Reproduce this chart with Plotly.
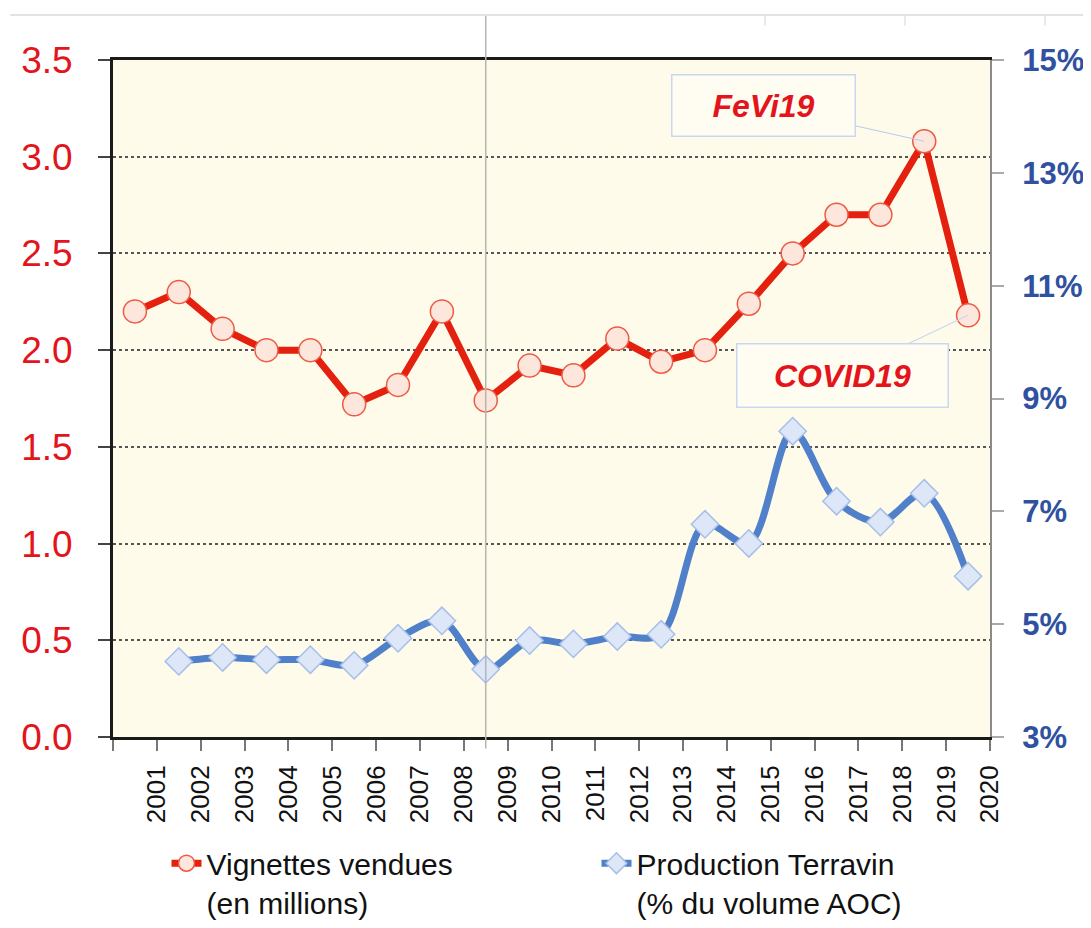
import plotly.graph_objects as go

years = [str(y) for y in range(2001, 2021)]
vignettes = [2.20, 2.30, 2.11, 2.00, 2.00, 1.72, 1.82, 2.20, 1.74, 1.92,
             1.87, 2.06, 1.94, 2.00, 2.24, 2.50, 2.70, 2.70, 3.08, 2.18]
terravin_years = years[1:]
terravin_pct = [4.34, 4.41, 4.37, 4.37, 4.27, 4.75, 5.06, 4.20, 4.71,
                4.65, 4.78, 4.82, 6.77, 6.43, 8.42, 7.18, 6.81, 7.32, 5.85]

left_ticks = [0.0, 0.5, 1.0, 1.5, 2.0, 2.5, 3.0, 3.5]
right_ticks = [3, 5, 7, 9, 11, 13, 15]

# category slots: each year occupies one slot, point in the slot centre
pos = {y: i + 0.5 for i, y in enumerate(years)}
x_red = [pos[y] for y in years]
x_blue = [pos[y] for y in terravin_years]

fig = go.Figure()

fig.add_trace(go.Scatter(
    x=x_red, y=vignettes, mode="lines+markers",
    name="Vignettes vendues<br>(en millions)",
    line=dict(color="#E4200E", width=7),
    marker=dict(symbol="circle", size=23, color="#FDE6DB",
                line=dict(color="#EE5A45", width=1.5)),
    yaxis="y",
))

fig.add_trace(go.Scatter(
    x=x_blue, y=terravin_pct, mode="lines+markers",
    name="Production Terravin<br>(% du volume AOC)",
    line=dict(color="#4F80C9", width=7, shape="spline", smoothing=0.9),
    marker=dict(symbol="diamond", size=21, color="#DDE7F8",
                line=dict(color="#A6BFEA", width=1.5)),
    yaxis="y2",
))

# vertical marker through 2009
fig.add_shape(type="line", xref="x", yref="paper",
              x0=pos["2009"], x1=pos["2009"], y0=-0.017, y1=1.067,
              line=dict(color="#B5B5B5", width=1.5), layer="above")
# faint page line at the top
fig.add_shape(type="line", xref="paper", yref="paper",
              x0=-0.117, x1=1.12, y0=1.0665, y1=1.0665,
              line=dict(color="#E2E2E2", width=2))
for xp in [0.7434, 0.903, 1.0627]:
    fig.add_shape(type="line", xref="paper", yref="paper",
                  x0=xp, x1=xp, y0=1.0665, y1=1.051,
                  line=dict(color="#E2E2E2", width=1.5))

ann_font = dict(family="Liberation Sans, Arial, sans-serif", size=32,
                color="#E3141B")
fig.add_annotation(
    x=pos["2019"], y=vignettes[years.index("2019")], xref="x", yref="y",
    text="<b><i>FeVi19</i></b>", font=ann_font,
    showarrow=True, arrowhead=0, arrowcolor="#B9CCEE", arrowwidth=1.2,
    ax=-161, ay=-36, width=180, height=58,
    bgcolor="#FFFDF2", bordercolor="#C9D8F0", borderwidth=1.5,
)
fig.add_annotation(
    x=pos["2020"], y=vignettes[years.index("2020")], xref="x", yref="y",
    text="<b><i>COVID19</i></b>", font=ann_font,
    showarrow=True, arrowhead=0, arrowcolor="#C9D8F0", arrowwidth=1.2,
    ax=-126, ay=60, width=208, height=60,
    bgcolor="#FFFDF2", bordercolor="#C9D8F0", borderwidth=1.5,
)

# the page adds an 8px body margin, so the figure is 8px smaller
fig.update_layout(
    width=1083, height=920,
    margin=dict(l=105, r=101, t=52, b=191, autoexpand=False),
    paper_bgcolor="white", plot_bgcolor="#FEFBEA",
    font=dict(family="Liberation Sans, Arial, sans-serif", color="black"),
    showlegend=True,
    legend=dict(orientation="h", x=0.061, y=-0.148, xanchor="left",
                yanchor="top", font=dict(size=30, color="#111111"),
                entrywidth=385, entrywidthmode="pixels", valign="top",
                bgcolor="rgba(0,0,0,0)", itemsizing="trace",
                tracegroupgap=0),
    xaxis=dict(
        range=[0, len(years)],
        tickmode="array",
        tickvals=list(range(0, len(years) + 1)),
        ticktext=[""] + years,
        tickangle=-90,
        tickfont=dict(size=26, color="#111111"),
        ticks="outside", ticklen=11, tickwidth=2, tickcolor="#777777",
        showgrid=False, zeroline=False, automargin=False,
        showline=True, linecolor="#1A1A1A", linewidth=3, mirror=True,
        ticklabelstandoff=4,
    ),
    yaxis=dict(
        range=[0, 3.5], tickmode="array", tickvals=left_ticks,
        ticktext=[f"{v:.1f}" for v in left_ticks],
        tickfont=dict(size=37, color="#E3141B"),
        ticks="outside", ticklen=12, tickwidth=2, tickcolor="#444444",
        ticklabelstandoff=18, automargin=False,
        showgrid=True, gridcolor="#555555", gridwidth=1.5, griddash="dot",
        zeroline=False,
        showline=True, linecolor="#1A1A1A", linewidth=3,
    ),
    yaxis2=dict(
        range=[3, 15], overlaying="y", side="right",
        tickmode="array", tickvals=right_ticks,
        ticktext=[f"<b>{v}%</b>" for v in right_ticks],
        tickfont=dict(size=31, color="#2F51A0"),
        ticks="outside", ticklen=12, tickwidth=1.5, tickcolor="#AAAAAA",
        ticklabelstandoff=12, automargin=False,
        showgrid=False, zeroline=False,
        showline=True, linecolor="#8A8A8A", linewidth=2,
    ),
)

fig.write_html("out.html")
